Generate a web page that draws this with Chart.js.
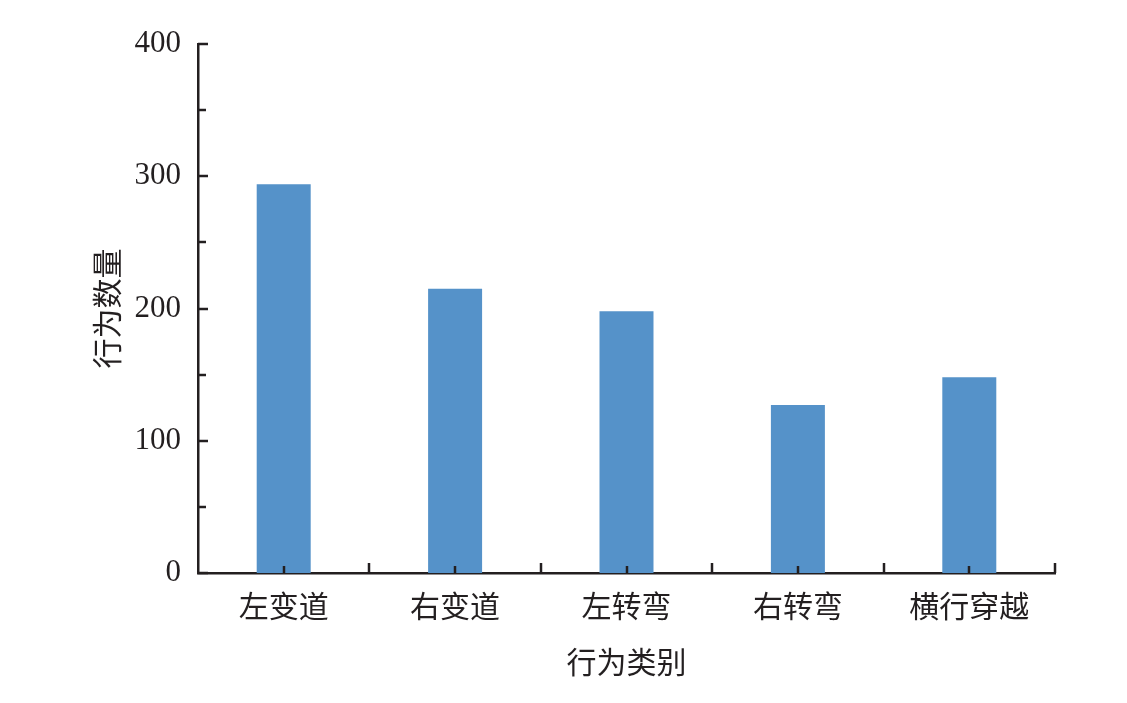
<!DOCTYPE html>
<html>
<head>
<meta charset="utf-8">
<script src="https://cdn.jsdelivr.net/npm/chart.js@4/dist/chart.umd.min.js"></script>
<style>
    html, body { margin: 0; padding: 0; background: #fff; }
    #wrap { width: 1127px; height: 703px; }
</style>
</head>
<body>
<div id="wrap"><canvas id="chart" width="1127" height="703"></canvas></div>
<script>
const categories = ["左变道", "右变道", "左转弯", "右转弯", "横行穿越"];
const counts = [294, 215, 198, 127, 148];
const yMajorTicks = [0, 100, 200, 300, 400];
const yMinorTicks = [50, 150, 250, 350];

const ink = "#231f20";
const fontFamily = "'Liberation Serif', 'Times New Roman', 'Noto Sans CJK SC', serif";

// ticks pointing into the plot, drawn off the chart's own scales
const inwardTicks = {
    id: "inwardTicks",
    afterDatasetsDraw(chart) {
        const { ctx, scales: { x, y } } = chart;
        ctx.save();
        ctx.strokeStyle = ink;
        ctx.lineWidth = 2.5;
        const left = x.left, bottom = y.bottom;

        yMajorTicks.forEach((v) => {
            const py = Math.round(y.getPixelForValue(v));
            ctx.beginPath();
            ctx.moveTo(left, py);
            ctx.lineTo(left + 10, py);
            ctx.stroke();
        });
        yMinorTicks.forEach((v) => {
            const py = Math.round(y.getPixelForValue(v));
            ctx.beginPath();
            ctx.moveTo(left, py);
            ctx.lineTo(left + 8, py);
            ctx.stroke();
        });

        const step = x.getPixelForValue(1) - x.getPixelForValue(0);
        categories.forEach((c, i) => {
            const cx = Math.round(x.getPixelForValue(i));
            ctx.beginPath();
            ctx.moveTo(cx, bottom);
            ctx.lineTo(cx, bottom - 7);
            ctx.stroke();
            const ex = Math.round(x.getPixelForValue(i) + step / 2);
            ctx.beginPath();
            ctx.moveTo(ex, bottom);
            ctx.lineTo(ex, bottom - 10);
            ctx.stroke();
        });
        ctx.restore();
    },
};

new Chart(document.getElementById("chart").getContext("2d"), {
    type: "bar",
    data: {
        labels: categories,
        datasets: [
            {
                label: "行为数量",
                data: counts,
                backgroundColor: "#5592c9",
                borderWidth: 0,
                categoryPercentage: 1,
                barPercentage: 0.315,
            },
        ],
    },
    options: {
        responsive: false,
        animation: false,
        layout: { padding: { top: 44, right: 72, left: 0, bottom: 0 } },
        plugins: {
            legend: { display: false },
            tooltip: { enabled: false },
        },
        scales: {
            x: {
                grid: { display: false, drawTicks: false },
                border: { display: true, color: ink, width: 2.5 },
                ticks: {
                    color: ink,
                    padding: 18,
                    maxRotation: 0,
                    font: { family: fontFamily, size: 30 },
                },
                title: {
                    display: true,
                    text: "行为类别",
                    color: ink,
                    font: { family: fontFamily, size: 30 },
                    padding: { top: 0, bottom: 20 },
                },
                afterFit: (scale) => { scale.height = 130; },
            },
            y: {
                min: 0,
                max: 400,
                grid: { display: false, drawTicks: false },
                border: { display: true, color: ink, width: 2.5 },
                ticks: {
                    stepSize: 100,
                    color: ink,
                    padding: 17,
                    font: { family: fontFamily, size: 31 },
                },
                title: {
                    display: true,
                    text: "行为数量",
                    color: ink,
                    font: { family: fontFamily, size: 30 },
                    padding: { top: 92, bottom: 0 },
                },
                afterFit: (scale) => { scale.width = 198; },
            },
        },
    },
    plugins: [inwardTicks],
});
</script>
</body>
</html>
